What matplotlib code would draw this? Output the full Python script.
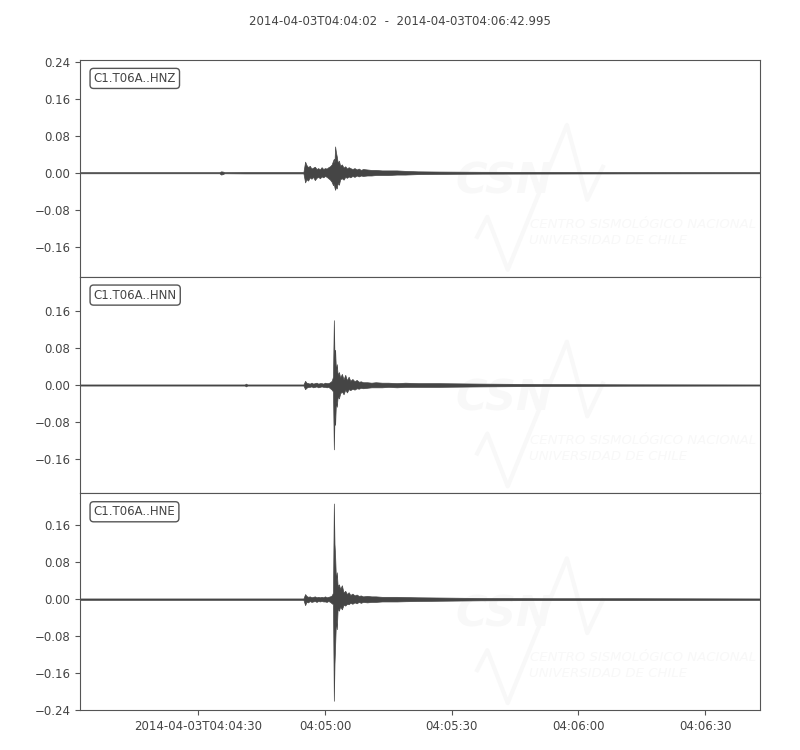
import numpy as np
import matplotlib
matplotlib.use("Agg")
import matplotlib.pyplot as plt

# --- data (seconds after 2014-04-03T04:04:02) ---
TITLE = "2014-04-03T04:04:02  -  2014-04-03T04:06:42.995"
DURATION = 160.995
CHANNELS = ["C1.T06A..HNZ", "C1.T06A..HNN", "C1.T06A..HNE"]

TIME = [0, 20, 33.0, 33.4, 33.8, 34.2, 39.0, 39.3, 39.6, 52.9,
        53.3, 53.6, 54.0, 54.4, 54.8, 55.2, 55.6, 56.0, 56.4, 56.8, 57.2, 57.6, 58.0, 58.4, 58.8, 59.2,
        59.6, 59.9, 60.1, 60.25, 60.4, 60.6, 60.8, 61.0, 61.3, 61.6,
        62.0, 62.4, 62.8, 63.2, 63.6, 64.0, 64.5, 65.0, 65.5, 66.0, 66.5, 67.0,
        68, 69, 70, 71.5, 73, 75, 77, 80, 85, 95, 110, 130, 161]

# per-time envelope (max / min) of each trace, in the trace's units
HNZ_MAX = [0.0012, 0.0012, 0.0012, 0.003, 0.0025, 0.0012, 0.0015, 0.0015, 0.0015, 0.0015,
           0.024, 0.017, 0.012, 0.015, 0.009, 0.011, 0.013, 0.008, 0.010, 0.007, 0.012, 0.008, 0.010, 0.009, 0.012, 0.014,
           0.018, 0.026, 0.030, 0.022, 0.057, 0.044, 0.035, 0.022, 0.026, 0.015,
           0.018, 0.011, 0.014, 0.009, 0.012, 0.010, 0.008, 0.010, 0.007, 0.009, 0.006, 0.008,
           0.007, 0.006, 0.006, 0.005, 0.005, 0.005, 0.004, 0.003, 0.0025, 0.002, 0.0018, 0.0015, 0.0012]
HNZ_MIN = [-0.0012, -0.0012, -0.0012, -0.004, -0.003, -0.0012, -0.0015, -0.0015, -0.0015, -0.0015,
           -0.021, -0.014, -0.017, -0.010, -0.013, -0.009, -0.016, -0.011, -0.009, -0.012, -0.008, -0.010, -0.007, -0.009, -0.012, -0.015,
           -0.020, -0.027, -0.024, -0.032, -0.037, -0.030, -0.034, -0.022, -0.026, -0.014,
           -0.012, -0.015, -0.009, -0.011, -0.008, -0.010, -0.007, -0.009, -0.006, -0.008, -0.006, -0.007,
           -0.006, -0.006, -0.005, -0.005, -0.005, -0.004, -0.004, -0.003, -0.0025, -0.002, -0.0018, -0.0015, -0.0012]

HNN_MAX = [0.0012, 0.0012, 0.0012, 0.0012, 0.0012, 0.0012, 0.0012, 0.003, 0.0012, 0.0012,
           0.009, 0.005, 0.004, 0.003, 0.005, 0.003, 0.004, 0.005, 0.003, 0.004, 0.004, 0.003, 0.005, 0.004, 0.004, 0.006,
           0.009, 0.018, 0.140, 0.060, 0.076, 0.030, 0.045, 0.022, 0.028, 0.016,
           0.024, 0.012, 0.022, 0.010, 0.018, 0.009, 0.013, 0.008, 0.011, 0.007, 0.008, 0.006,
           0.006, 0.005, 0.006, 0.005, 0.005, 0.004, 0.005, 0.004, 0.004, 0.003, 0.002, 0.0015, 0.0012]
HNN_MIN = [-0.0012, -0.0012, -0.0012, -0.0012, -0.0012, -0.0012, -0.0012, -0.003, -0.0012, -0.0012,
           -0.009, -0.006, -0.004, -0.004, -0.003, -0.005, -0.004, -0.003, -0.005, -0.004, -0.003, -0.004, -0.004, -0.005, -0.004, -0.007,
           -0.010, -0.014, -0.139, -0.070, -0.086, -0.035, -0.047, -0.025, -0.029, -0.018,
           -0.014, -0.020, -0.010, -0.016, -0.009, -0.011, -0.008, -0.010, -0.007, -0.008, -0.006, -0.007,
           -0.006, -0.005, -0.005, -0.005, -0.004, -0.005, -0.004, -0.004, -0.004, -0.003, -0.002, -0.0015, -0.0012]

HNE_MAX = [0.0015, 0.0015, 0.0015, 0.0015, 0.0015, 0.0015, 0.0015, 0.0015, 0.0015, 0.0015,
           0.011, 0.007, 0.005, 0.006, 0.004, 0.005, 0.006, 0.004, 0.005, 0.004, 0.005, 0.004, 0.006, 0.004, 0.005, 0.006,
           0.008, 0.014, 0.207, 0.120, 0.094, 0.040, 0.058, 0.028, 0.032, 0.022,
           0.030, 0.014, 0.018, 0.011, 0.015, 0.009, 0.012, 0.008, 0.010, 0.007, 0.008, 0.006,
           0.007, 0.006, 0.006, 0.005, 0.005, 0.005, 0.0045, 0.004, 0.0035, 0.0025, 0.002, 0.002, 0.0015]
HNE_MIN = [-0.0015, -0.0015, -0.0015, -0.0015, -0.0015, -0.0015, -0.0015, -0.0015, -0.0015, -0.0015,
           -0.013, -0.006, -0.007, -0.004, -0.006, -0.005, -0.004, -0.006, -0.004, -0.005, -0.004, -0.005, -0.005, -0.006, -0.004, -0.006,
           -0.009, -0.011, -0.220, -0.140, -0.101, -0.045, -0.065, -0.020, -0.025, -0.016,
           -0.022, -0.012, -0.014, -0.010, -0.011, -0.008, -0.010, -0.007, -0.009, -0.006, -0.008, -0.006,
           -0.007, -0.006, -0.006, -0.005, -0.005, -0.005, -0.0045, -0.004, -0.0035, -0.0025, -0.002, -0.002, -0.0015]

YLIMS = [(-0.225, 0.244), (-0.234, 0.234), (-0.24, 0.229)]
YTICKS = [-0.24, -0.16, -0.08, 0.0, 0.08, 0.16, 0.24]
XTICKS = [28, 58, 88, 118, 148]
XTICK_LABELS = ["2014-04-03T04:04:30", "04:05:00", "04:05:30", "04:06:00", "04:06:30"]

TRACE_COLOR = "#454545"
AXIS_COLOR = "#555555"
TEXT_COLOR = "#444444"
WM_COLOR = "#f8f8f8"


def watermark(ax):
    # faint CSN logo behind each trace
    ax.text(0.552, 0.44, "CSN", transform=ax.transAxes, fontsize=31, fontweight="bold",
            fontstyle="italic", color=WM_COLOR, ha="left", va="center", zorder=0)
    zx = [0.584, 0.599, 0.629, 0.716, 0.746, 0.769]
    zy = [0.184, 0.276, 0.032, 0.700, 0.355, 0.507]
    ax.plot(zx, zy, transform=ax.transAxes, color=WM_COLOR, lw=3, zorder=0)
    ax.text(0.662, 0.242, "CENTRO SISMOLÓGICO NACIONAL", transform=ax.transAxes, fontsize=9.5,
            fontstyle="italic", color=WM_COLOR, ha="left", va="center", zorder=0)
    ax.text(0.660, 0.168, "UNIVERSIDAD DE CHILE", transform=ax.transAxes, fontsize=9.5,
            fontstyle="italic", color=WM_COLOR, ha="left", va="center", zorder=0)


def fmt_y(v, _):
    if abs(v) < 1e-9:
        return "0.00"
    return ("%.2f" % v).replace("-", "\u2212")


def main():
    t = np.array(TIME)
    upper = [HNZ_MAX, HNN_MAX, HNE_MAX]
    lower = [HNZ_MIN, HNN_MIN, HNE_MIN]

    fig, axes = plt.subplots(3, 1, figsize=(8, 7.5), dpi=100, sharex=True)
    fig.subplots_adjust(left=0.1, right=0.95, top=0.92, bottom=0.0533, hspace=0)

    for i, ax in enumerate(axes):
        watermark(ax)
        ax.fill_between(t, lower[i], upper[i], color=TRACE_COLOR, lw=0.5, zorder=2)
        ax.set_xlim(0, DURATION)
        ax.set_ylim(*YLIMS[i])
        lo, hi = YLIMS[i]
        ax.set_yticks([v for v in YTICKS if lo - 1e-6 <= v <= hi + 1e-6])
        ax.yaxis.set_major_formatter(plt.FuncFormatter(fmt_y))
        for sp in ax.spines.values():
            sp.set_color(AXIS_COLOR)
        ax.tick_params(colors=AXIS_COLOR, labelcolor=TEXT_COLOR, labelsize=8.5, direction="out")
        ax.text(0.02, 0.945, CHANNELS[i], transform=ax.transAxes, fontsize=8.5, color=TEXT_COLOR,
                ha="left", va="top", zorder=5,
                bbox=dict(boxstyle="round,pad=0.3", fc="white", ec=AXIS_COLOR, lw=1))
        if i < 2:
            ax.tick_params(axis="x", length=0, labelbottom=False)

    axes[-1].set_xticks(XTICKS)
    axes[-1].set_xticklabels(XTICK_LABELS)

    fig.suptitle(TITLE, fontsize=8.5, color=TEXT_COLOR, y=0.98)
    fig.savefig("out.png", dpi=100)


if __name__ == "__main__":
    main()
